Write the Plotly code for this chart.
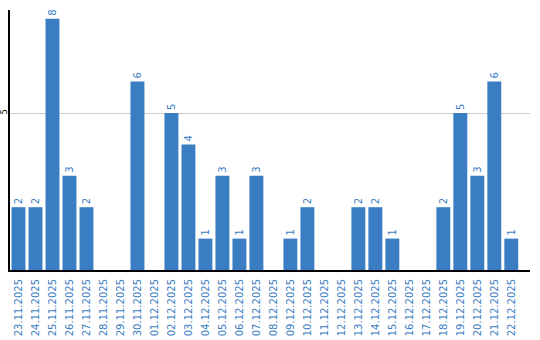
import plotly.graph_objects as go

dates = ["23.11.2025","24.11.2025","25.11.2025","26.11.2025","27.11.2025","28.11.2025","29.11.2025",
         "30.11.2025","01.12.2025","02.12.2025","03.12.2025","04.12.2025","05.12.2025","06.12.2025",
         "07.12.2025","08.12.2025","09.12.2025","10.12.2025","11.12.2025","12.12.2025","13.12.2025",
         "14.12.2025","15.12.2025","16.12.2025","17.12.2025","18.12.2025","19.12.2025","20.12.2025",
         "21.12.2025","22.12.2025"]
values = [2,2,8,3,2,0,0,6,0,5,4,1,3,1,3,0,1,2,0,0,2,2,1,0,0,2,5,3,6,1]
labels = [str(v) if v > 0 else "" for v in values]

blue = "#3a7dc2"
fig = go.Figure(go.Bar(
    x=dates, y=values, text=labels, textposition="outside", textangle=-90,
    textfont=dict(color=blue, size=10, family="DejaVu Sans"),
    marker=dict(color=blue, line=dict(width=0)), cliponaxis=False,
))
fig.update_layout(
    width=540, height=340, margin=dict(l=10, r=10, t=10, b=70),
    plot_bgcolor="white", paper_bgcolor="white", bargap=0.18, showlegend=False,
    xaxis=dict(tickangle=-90, tickfont=dict(color=blue, size=10, family="DejaVu Sans"),
               showline=True, linecolor="black", linewidth=2, ticks="", showgrid=False,
               automargin=False, ticklabelstandoff=3, range=[-0.5, 30.1]),
    yaxis=dict(range=[0, 8.28], tickvals=[5], ticktext=["5"], tickangle=-90,
               tickfont=dict(color="black", size=8, family="DejaVu Sans"),
               showline=True, linecolor="black", linewidth=2, gridcolor="#cccccc",
               zeroline=False, ticklabelstandoff=-2, automargin=False),
)
fig.write_html("out.html")
